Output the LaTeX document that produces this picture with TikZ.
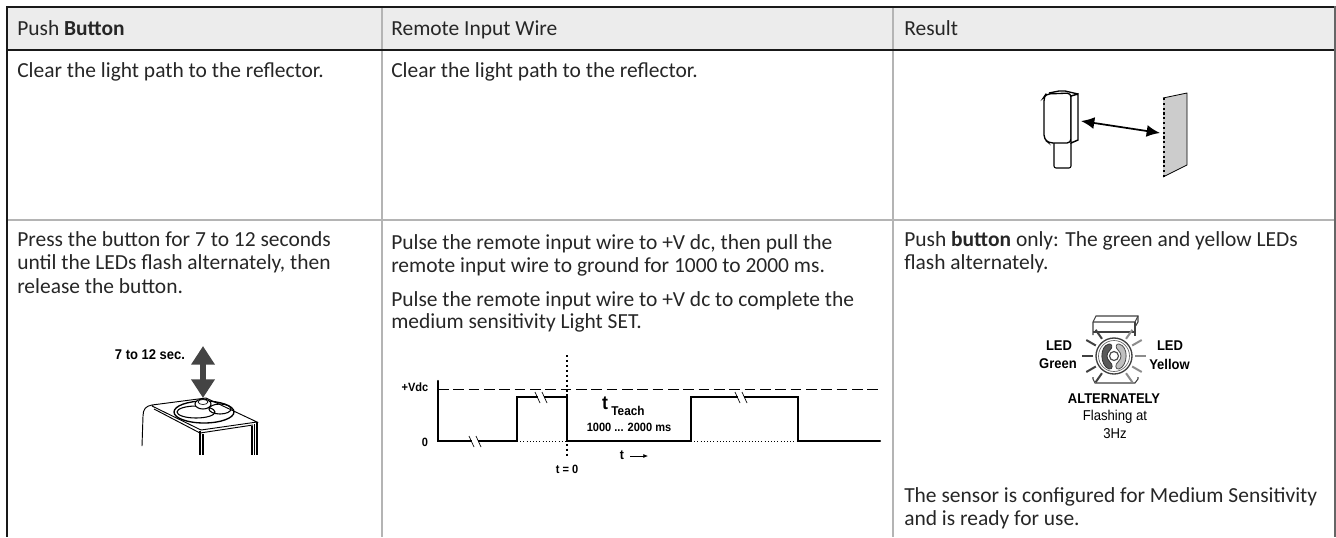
\documentclass[tikz,border=0pt]{standalone}
\usepackage{fontspec}
\setmainfont{Carlito}
\newfontfamily\labelfont[FakeStretch=0.92]{Liberation Sans}
\usetikzlibrary{arrows.meta}
\usetikzlibrary{positioning}
\definecolor{headfill}{HTML}{ECECEC}
\definecolor{ruleline}{HTML}{B4B4B4}
\definecolor{arrowgrey}{HTML}{444444}

\begin{document}
\begin{tikzpicture}[
      x = 0.75pt, y = -0.75pt,
      >=latex,
      celltext/.style = {
        anchor = base west, inner sep = 0pt,
        font = \fontsize{16.1}{18}\selectfont, text = black!85
      },
      tag/.style = {
        inner sep = 0pt, align = center,
        font = \labelfont\bfseries\fontsize{9}{10}\selectfont
      },
      led tag/.style = {
        tag, font = \labelfont\bfseries\fontsize{10.6}{12}\selectfont
      },
      plain tag/.style = {
        tag, font = \labelfont\fontsize{10.7}{12}\selectfont
      },
      signal/.style = { line width = 1.8pt, line cap = round, line join = miter },
      breakmark/.style = { line width = 0.5pt },
      ray/.style = { line width = 1.5pt },
    ]
    \useasboundingbox (0,0) rectangle (1336,537);

    % table
    \fill[headfill] (7,7) rectangle (1335,50);
    \draw[ruleline, line width = 0.9pt] (382,7) -- (382,537) (893,7) -- (893,537);
    \draw[ruleline, line width = 0.9pt] (7,220) -- (1335,220);
    \draw[line width = 1.5pt, black!90] (7,7) -- (1335,7);
    \draw[line width = 1.5pt, black!90] (7,50) -- (1335,50);
    \draw[line width = 1.7pt, black!90] (7,6) -- (7,537);
    \draw[line width = 1.5pt, black!60] (1335,6) -- (1335,537);

    % header row
    \node[celltext] (head1) at (17,35) {Push \textbf{Button}};
    \node[celltext] (head2) at (391,35) {Remote Input Wire};
    \node[celltext] (head3) at (904,35) {Result};

    % first row
    \node[celltext] (clear1) at (17,77) {Clear the light path to the reflector.};
    \node[celltext] (clear2) at (391,77) {Clear the light path to the reflector.};

    % second row, left
    \node[celltext] (press1) at (17,246) {Press the button for 7 to 12 seconds};
    \node[celltext] (press2) at (17,269.5) {until the LEDs flash alternately, then};
    \node[celltext] (press3) at (17,293) {release the button.};
    % second row, middle
    \node[celltext] (pulse1) at (391,249) {Pulse the remote input wire to +V dc, then pull the};
    \node[celltext] (pulse2) at (391,272) {remote input wire to ground for 1000 to 2000 ms.};
    \node[celltext] (pulse3) at (391,306) {Pulse the remote input wire to +V dc to complete the};
    \node[celltext] (pulse4) at (391,328) {medium sensitivity Light SET.};
    % second row, right
    \node[celltext] (res1) at (904,246) {Push \textbf{button} only: The green and yellow LEDs};
    \node[celltext] (res2) at (904,269.5) {flash alternately.};
    \node[celltext] (res3) at (904,502) {The sensor is configured for Medium Sensitivity};
    \node[celltext] (res4) at (904,525) {and is ready for use.};

    % sensor and reflector
    \draw[line width = 0.8pt, rounded corners = 1.5pt] (1054,143) -- (1054,168) -- (1071,168) -- (1071,143);
    \draw[line width = 1pt, rounded corners = 3pt, fill = white]
      (1046,94) -- (1071,93) -- (1071,143) -- (1049,143) -- (1044,139) -- (1044,97) -- cycle;
    \draw[line width = 1.1pt, fill = white] (1071,96) -- (1078,94) -- (1078,140) -- (1071,143) -- cycle;
    \draw[line width = 1pt] (1049,93) -- (1059,91) -- (1065,91) -- (1078,94);
    \fill[black!20] (1163,98) -- (1187,93) -- (1187,165) -- (1163,177) -- cycle;
    \draw[line width = 0.6pt] (1163,98) -- (1187,93) -- (1187,165) -- (1163,177);
    \draw[line width = 1.6pt, dotted] (1164,98) -- (1164,177);
    \coordinate (beamA) at (1081,121);
    \coordinate (beamB) at (1160,133);
    \draw[{Latex[length = 10pt, width = 9pt]}-{Latex[length = 10pt, width = 9pt]}, line width = 1.3pt]
      (beamA) -- (beamB);

    % push button
    \node[tag, font = \labelfont\bfseries\fontsize{10.6}{12}\selectfont] (hold) at (150,355) {7 to 12 sec.};
    \coordinate (pushA) at (203,346);
    \coordinate (pushB) at (203,398);
    \draw[{Triangle[length = 14pt, width = 17pt]}-{Triangle[length = 14pt, width = 17pt]},
      line width = 4.4pt, arrowgrey] (pushA) -- (pushB);
    \draw[line width = 0.7pt] (142,446) -- (143,416) .. controls (143,409) and (146,406) .. (152,405)
      -- (206,398) -- (257,422) -- (201,430) -- (152,406);
    \draw[line width = 0.7pt] (154,409) -- (200,433) -- (253,425);
    \draw[line width = 0.8pt] (200,431) -- (200,455) (203,434) -- (203,455);
    \draw[line width = 0.8pt] (252,426) -- (252,455) (257,422) -- (257,455) (254.5,424) -- (254.5,455);
    \draw[line width = 1pt] (204,412) ellipse (30 and 11);
    \draw[line width = 0.8pt] (196,412) ellipse (19 and 6);
    \draw[line width = 0.8pt] (220,409) ellipse (11 and 5);
    \draw[fill = white, line width = 0.8pt] (203,404) ellipse (8 and 5);
    \draw[fill = white, line width = 0.5pt] (203,402) ellipse (5 and 2.5);

    % timing chart
    \draw[dashed, dash pattern = on 8pt off 3.5pt, line width = 0.5pt] (438,389) -- (880,389);
    \draw[dotted, line width = 0.4pt] (517,441) -- (567,441) (691,441) -- (798,441);
    \draw[signal] (438,381) -- (438,441) -- (517,441) -- (517,397) -- (567,397) -- (567,441)
      -- (691,441) -- (691,397) -- (798,397) -- (798,441) -- (880,441);
    \draw[line width = 1.7pt, dotted] (567,355) -- (567,458);
    \foreach \bx/\by in {475/441, 541/397, 741/397} {
      \fill[white] (\bx-3,\by-2) rectangle (\bx+3,\by+2);
      \draw[breakmark] (\bx-6,\by-5) -- (\bx-1,\by+6) (\bx+1,\by-5) -- (\bx+6,\by+6);
    }
    \node[tag] (vdc) at (415,387) {+Vdc};
    \node[tag] (zero) at (425,442) {0};
    \node[tag] (tzero) at (567,469) {t = 0};
    \node[tag, font = \labelfont\bfseries\fontsize{14.5}{16}\selectfont] (tbig) at (605,403) {t};
    \node[tag, font = \labelfont\bfseries\fontsize{9.6}{11}\selectfont] (teach) at (628,411) {Teach};
    \node[tag] (range) at (629,427) {1000 ... 2000 ms};
    \node[tag, font = \labelfont\bfseries\fontsize{10}{11}\selectfont] (tlabel) at (622,455) {t};
    \coordinate (timeA) at (630,456);
    \coordinate (timeB) at (648,456);
    \draw[-{Latex[length = 3.5pt, width = 3pt]}, line width = 0.5pt] (timeA) -- (timeB);

    % flashing leds
    \draw[line width = 0.8pt, black!75] (1093,335) -- (1093,322) -- (1096,316) -- (1138,316) -- (1138,322) -- (1135,327);
    \draw[line width = 0.8pt, black!75] (1093,322) -- (1135,322) -- (1138,316);
    \draw[line width = 0.8pt, black!75] (1093,332) -- (1135,332);
    \draw[line width = 0.8pt, black!75] (1135,322) -- (1135,336);
    \draw[line width = 0.8pt, black!75] (1093,377) -- (1093,379) -- (1095,383) -- (1135,383) -- (1138,379) -- (1138,377);
    \foreach \ang in {125,150,180,210,235} {
      \draw[ray, black!75] (1114,356) ++(\ang:21) -- ++(\ang:11);
    }
    \foreach \ang in {55,30,0,-30,-55} {
      \draw[ray, black!45] (1114,356) ++(\ang:21) -- ++(\ang:11);
    }
    \draw[line width = 1pt, black!75, fill = white] (1114,356) circle (18);
    \draw[line width = 0.5pt, black!60] (1114,356) circle (15.5);
    \draw[line width = 0.6pt, black!80, fill = black!65]
      (1109,344) .. controls (1099,346) and (1100,366) .. (1109,369)
      .. controls (1113,370) and (1113,364) .. (1110,362)
      .. controls (1106,358) and (1106,354) .. (1110,350)
      .. controls (1113,348) and (1112,343) .. (1109,344) -- cycle;
    \draw[line width = 0.6pt, black!70, fill = black!25]
      (1119,344) .. controls (1129,346) and (1128,366) .. (1119,369)
      .. controls (1115,370) and (1115,364) .. (1118,362)
      .. controls (1122,358) and (1122,354) .. (1118,350)
      .. controls (1115,348) and (1116,343) .. (1119,344) -- cycle;
    \draw[line width = 0.9pt, black!70, fill = white] (1114,356) circle (4.5);

    \node[led tag] (ledG) at (1059,346) {LED};
    \node[led tag] (green) at (1058,363.5) {Green};
    \node[led tag] (ledY) at (1170,346) {LED};
    \node[led tag] (yellow) at (1169.5,364) {Yellow};
    \node[led tag] (alt) at (1114,399) {ALTERNATELY};
    \node[plain tag] (rate) at (1115,417) {Flashing at};
    \node[plain tag] (hertz) at (1115,434) {3Hz};
  \end{tikzpicture}
\end{document}
